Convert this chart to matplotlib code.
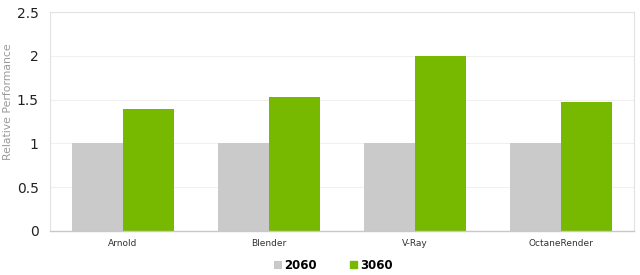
import matplotlib
matplotlib.use("Agg")
import matplotlib.pyplot as plt
import numpy as np
from matplotlib.patches import Patch

categories = ["Arnold", "Blender", "V-Ray", "OctaneRender"]
series_names = ["2060", "3060"]
values_2060 = [1.0, 1.0, 1.0, 1.0]
values_3060 = [1.39, 1.53, 2.0, 1.47]
yticks = [0, 0.5, 1, 1.5, 2, 2.5]
ytick_labels = ["0", "0.5", "1", "1.5", "2", "2.5"]

c_gray = "#cacaca"
c_green = "#76b900"

fig = plt.figure(figsize=(6.4, 2.75), dpi=100)
ax = fig.add_axes([0.078, 0.16, 0.913, 0.796])

x = np.arange(len(categories))
w = 0.35
ax.bar(x - w/2, values_2060, width=w, color=c_gray, zorder=2)
ax.bar(x + w/2, values_3060, width=w, color=c_green, zorder=2)

ax.set_xlim(-0.5, len(categories) - 0.5)
ax.set_ylim(0, 2.5)
ax.set_yticks(yticks)
ax.set_yticklabels(ytick_labels, fontsize=10, color="#222222")
ax.set_xticks(x)
ax.set_xticklabels(categories, fontsize=6.5, color="#333333")
ax.tick_params(axis="both", length=0, pad=6)
ax.tick_params(axis="y", pad=8)
ax.yaxis.grid(True, color="#f0f0f0", linewidth=0.8, zorder=0)
ax.set_axisbelow(True)
for s in ["top", "right", "left"]:
    ax.spines[s].set_color("#e2e2e2")
    ax.spines[s].set_linewidth(0.8)
ax.spines["bottom"].set_color("#c8c8c8")
ax.spines["bottom"].set_linewidth(1.0)
fig.text(0.013, 0.63, "Relative Performance", rotation=90, fontsize=7.8,
         color="#9a9a9a", ha="center", va="center")

handles = [Patch(facecolor=c_gray, edgecolor="#b8b8b8", linewidth=0.5),
           Patch(facecolor=c_green, edgecolor=c_green)]
fig.legend(handles, series_names, loc="center", bbox_to_anchor=(0.521, 0.035),
           ncol=2, frameon=False, prop={"weight": "bold", "size": 8.5},
           handlelength=0.6, handleheight=0.6, handletextpad=0.3, columnspacing=2.8)

fig.savefig("out.png", dpi=100)
